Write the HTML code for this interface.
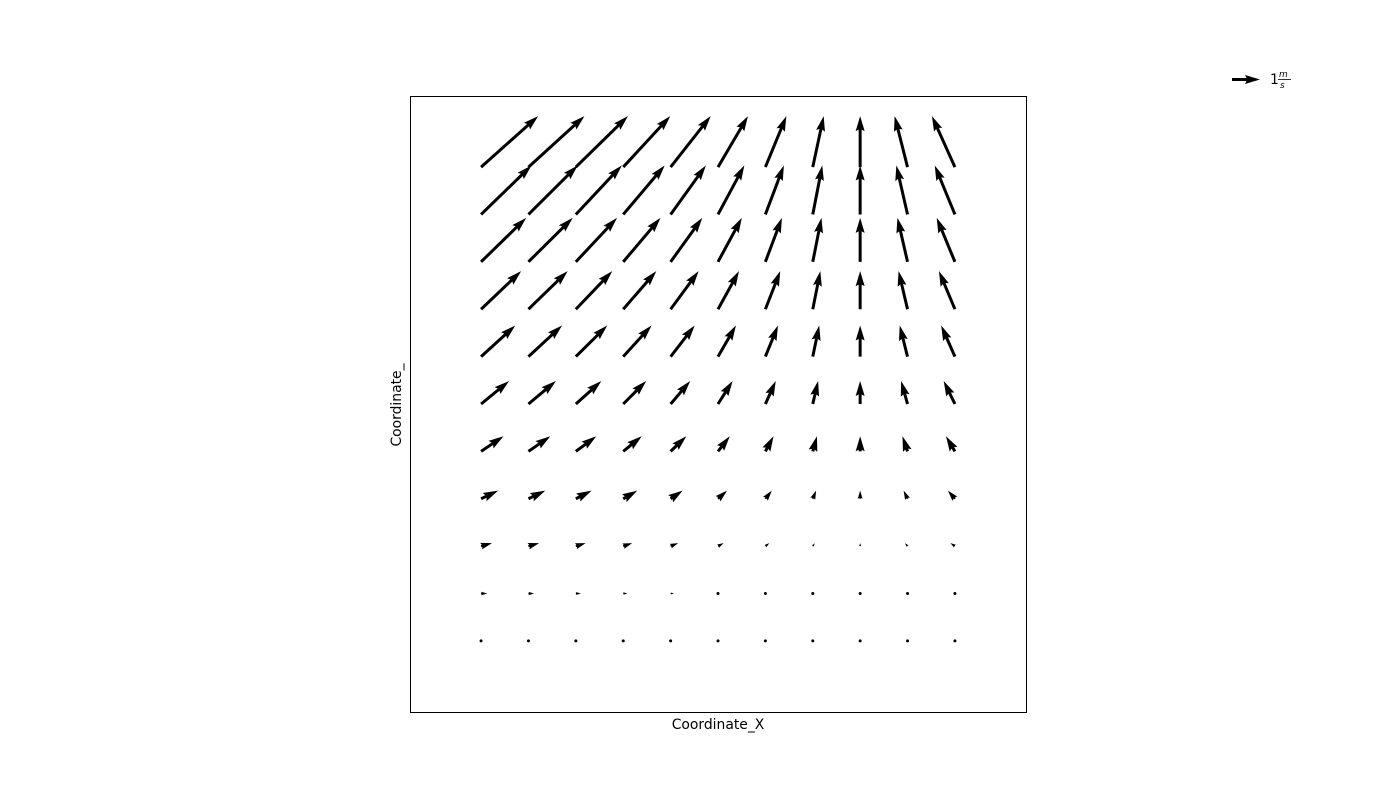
<!DOCTYPE html>
<html><head><meta charset="utf-8"><style>
body{margin:0;background:#fff;}
svg{display:block;font-family:"DejaVu Sans","Liberation Sans",sans-serif;}
</style></head><body>
<svg id="chart" width="1400" height="800" viewBox="0 0 1400 800">
<rect x="410.5" y="96.5" width="616" height="616" fill="none" stroke="#000" stroke-width="1"/>
<g id="arrows"></g>
<text x="718" y="729" text-anchor="middle" font-size="13.9">Coordinate_X</text>
<text transform="translate(401,405) rotate(-90)" text-anchor="middle" font-size="13.9">Coordinate_</text>
<g id="key"></g>
<text x="1270" y="84" font-size="13.9">1</text>
<text x="1279" y="77" font-size="9" font-style="italic">m</text>
<line x1="1278" y1="79.5" x2="1291" y2="79.5" stroke="#000" stroke-width="0.8"/>
<text x="1280" y="88" font-size="9" font-style="italic">s</text>
</svg>
<script>
// grid coordinates (data units)
const xs = [0,1,2,3,4,5,6,7,8,9,10];
const ys = [10,9,8,7,6,5,4,3,2,1,0]; // rows top -> bottom
// U components (m/s), rows top -> bottom
const U = [
 [2.04,2.00,1.86,1.68,1.43,1.07,0.75,0.39,0,-0.46,-0.82],
 [1.80,1.76,1.64,1.48,1.26,0.94,0.66,0.34,0,-0.40,-0.72],
 [1.61,1.58,1.47,1.33,1.13,0.85,0.59,0.31,0,-0.36,-0.65],
 [1.43,1.40,1.30,1.18,1.00,0.75,0.53,0.27,0,-0.32,-0.57],
 [1.22,1.20,1.12,1.01,0.86,0.64,0.45,0.23,0,-0.28,-0.49],
 [1.00,0.98,0.91,0.82,0.70,0.52,0.37,0.19,0,-0.23,-0.40],
 [0.80,0.78,0.73,0.66,0.56,0.42,0.29,0.15,0,-0.18,-0.32],
 [0.61,0.60,0.56,0.50,0.43,0.32,0.23,0.12,0,-0.14,-0.25],
 [0.39,0.38,0.35,0.32,0.27,0.20,0.14,0.07,0,-0.09,-0.16],
 [0.22,0.20,0.18,0.15,0.12,0,0,0,0,0,0],
 [0,0,0,0,0,0,0,0,0,0,0]
];
// V components (m/s) per row, top -> bottom
const Vrow = [1.82,1.75,1.57,1.36,1.11,0.82,0.54,0.29,0.11,0.0,0];
const V = Vrow.map(v => xs.map(() => v));
const keyValue = 1;

const x0 = 410, y0 = 96, W = 616, H = 616, dmin = -1.5, dmax = 11.5;
const sx = d => x0 + (d - dmin) / (dmax - dmin) * W;
const sy = d => y0 + H - (d - dmin) / (dmax - dmin) * H;
const pxPerUnit = 28;
const w = 3, headLen = 5 * w, headAx = 4.5 * w, hw = 1.5 * w;
const NS = 'http://www.w3.org/2000/svg';

function arrow(parent, tx, ty, dx, dy) {
  const L = Math.hypot(dx, dy);
  if (L < w) {
    const c = document.createElementNS(NS, 'circle');
    c.setAttribute('cx', tx); c.setAttribute('cy', ty); c.setAttribute('r', 1.5);
    c.setAttribute('fill', '#000');
    
    
    parent.appendChild(c); return;
  }
  let pts;
  if (L < headLen) {
    const s = L / headLen;
    pts = [[0, -w/2*s], [L - headAx*s, -w/2*s], [0, -hw*s], [L, 0], [0, hw*s], [L - headAx*s, w/2*s], [0, w/2*s]];
  } else {
    pts = [[0, -w/2], [L - headAx, -w/2], [L - headLen, -hw], [L, 0], [L - headLen, hw], [L - headAx, w/2], [0, w/2]];
  }
  const ang = Math.atan2(dy, dx), c = Math.cos(ang), s2 = Math.sin(ang);
  const p = document.createElementNS(NS, 'polygon');
  p.setAttribute('points', pts.map(([a, b]) => (tx + a*c - b*s2).toFixed(2) + ',' + (ty + a*s2 + b*c).toFixed(2)).join(' '));
  p.setAttribute('fill', '#000');
  
  
  parent.appendChild(p);
}

const g = document.getElementById('arrows');
ys.forEach((yv, r) => xs.forEach((xv, c) => {
  arrow(g, sx(xv), sy(yv), U[r][c] * pxPerUnit, -V[r][c] * pxPerUnit);
}));
arrow(document.getElementById('key'), 1232, 79.5, keyValue * pxPerUnit, 0);
</script>
</body></html>
